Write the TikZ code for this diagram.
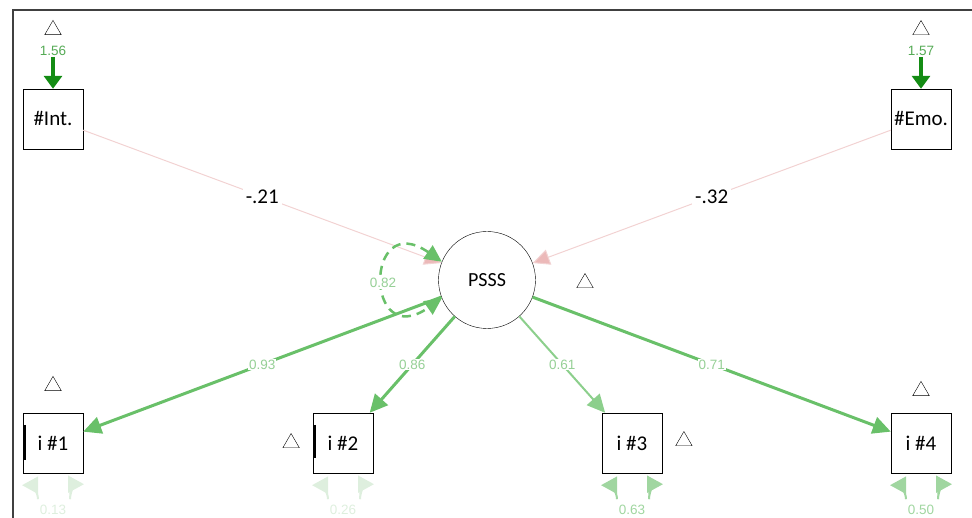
\documentclass[tikz,border=0pt]{standalone}
\usepackage{fontspec}
\setmainfont{Carlito}
\newfontfamily\numfont{Liberation Sans}
\usetikzlibrary{arrows.meta,positioning,shapes.geometric}

\definecolor{icptgreen}{RGB}{20,140,20}
\definecolor{icptlabel}{RGB}{85,170,85}
\definecolor{loadgreen}{RGB}{105,192,105}
\definecolor{loadlight}{RGB}{140,207,140}
\definecolor{lblgreen}{RGB}{150,208,150}
\definecolor{residfaint}{RGB}{222,239,222}
\definecolor{residmid}{RGB}{160,214,160}
\definecolor{pinkline}{RGB}{242,210,210}
\definecolor{pinktip}{RGB}{236,185,185}

\begin{document}
\begin{tikzpicture}[x=1pt,y=1pt,>={Triangle[length=18pt,width=17pt]},
  obs node/.style={draw,thin,minimum size=60pt,inner sep=0pt,font=\fontsize{21}{21}\selectfont},
  lat node/.style={circle,draw,thin,minimum size=97pt,inner sep=0pt,font=\fontsize{20}{20}\selectfont},
  tri/.style={regular polygon,regular polygon sides=3,draw,thin,minimum size=19pt,inner sep=0pt},
  num/.style={inner sep=1pt,font=\numfont\fontsize{13.5}{13.5}\selectfont},
  lbl/.style={num,fill=white,text=lblgreen},
  coef/.style={fill=white,inner sep=3pt,font=\fontsize{21}{21}\selectfont},
  load/.style={->,draw=loadgreen,line width=3pt,
    >={Triangle[length=18pt,width=17pt,fill=loadgreen]}},
  regr/.style={->,draw=pinkline,line width=1pt,
    >={Triangle[length=17pt,width=16pt,fill=pinktip]}},
  icpt/.style={->,draw=icptgreen,line width=4pt,
    >={Triangle[length=13pt,width=18pt]}},
  resid/.style={->,line width=2pt,>={Triangle[length=16pt,width=17pt]}}]
    \useasboundingbox (0,0) rectangle (972,518);
    \draw[line width=1.2pt,black!75] (13,0) |- (972,508);

    % exogenous predictors
    \node[obs node] (int) at (53,399) {\#Int.};
    \node[obs node] (emo) at (921,399) {\#Emo.};
    \node[num,text=icptlabel,above=32pt of int] (m1) {1.56};
    \node[num,text=icptlabel,above=32pt of emo] (m2) {1.57};
    \node[tri,above=10pt of m1] {};
    \node[tri,above=10pt of m2] {};
    \draw[icpt] (m1) -- (int);
    \draw[icpt] (m2) -- (emo);

    % latent factor
    \node[lat node] (psss) at (487,238) {PSSS};
    \node[tri] at (585,235) {};

    % indicators
    \node[obs node] (i1) at (53,75) {i \#1};
    \node[obs node] (i2) at (343,75) {i \#2};
    \node[obs node] (i3) at (632,75) {i \#3};
    \node[obs node] (i4) at (921,75) {i \#4};
    \node[tri,above=22pt of i1] {};
    \node[tri,left=16pt of i2] {};
    \node[tri,right=16pt of i3,yshift=2pt] {};
    \node[tri,above=17pt of i4] {};
    \draw[line width=2pt] ([xshift=2pt,yshift=-12pt]i1.north west) -- ([xshift=2pt,yshift=13pt]i1.south west);
    \draw[line width=2pt] ([xshift=2pt,yshift=-12pt]i2.north west) -- ([xshift=2pt,yshift=15pt]i2.south west);

    % regressions
    \path[regr] (int) edge node[coef]{-.21} (psss)
                (emo) edge node[coef]{-.32} (psss);

    % residual variance of the factor
    \draw[<->,draw=loadgreen,line width=2.5pt,dash pattern=on 9pt off 6pt,
      >={Triangle[length=17pt,width=16pt,fill=loadgreen]}]
      (psss.158) .. controls +(145:95) and +(215:95) .. (psss.202);
    \node[lbl] at (383,235) {0.82};

    % loadings
    \path[load] (psss) edge node[lbl]{0.93} (i1)
                (psss) edge node[lbl]{0.86} (i2)
                (psss) edge node[lbl]{0.71} (i4);
    \path[load,draw=loadlight,line width=2pt,
      >={Triangle[length=18pt,width=17pt,fill=loadlight]}]
                (psss) edge node[lbl]{0.61} (i3);

    % residuals of the indicators
    \foreach \n/\v/\c in {i1/0.13/residfaint,i2/0.26/residfaint,i3/0.63/residmid,i4/0.50/residmid}{
      \draw[resid,draw=\c,fill=\c] ([xshift=-15pt,yshift=-26pt]\n.south) to[out=90,in=0] ([xshift=-31pt,yshift=-12pt]\n.south);
      \draw[resid,draw=\c,fill=\c] ([xshift=17pt,yshift=-26pt]\n.south) to[out=90,in=180] ([xshift=31pt,yshift=-11pt]\n.south);
      \node[num,text=\c,below=31pt of \n] {\v};
    }
\end{tikzpicture}
\end{document}
